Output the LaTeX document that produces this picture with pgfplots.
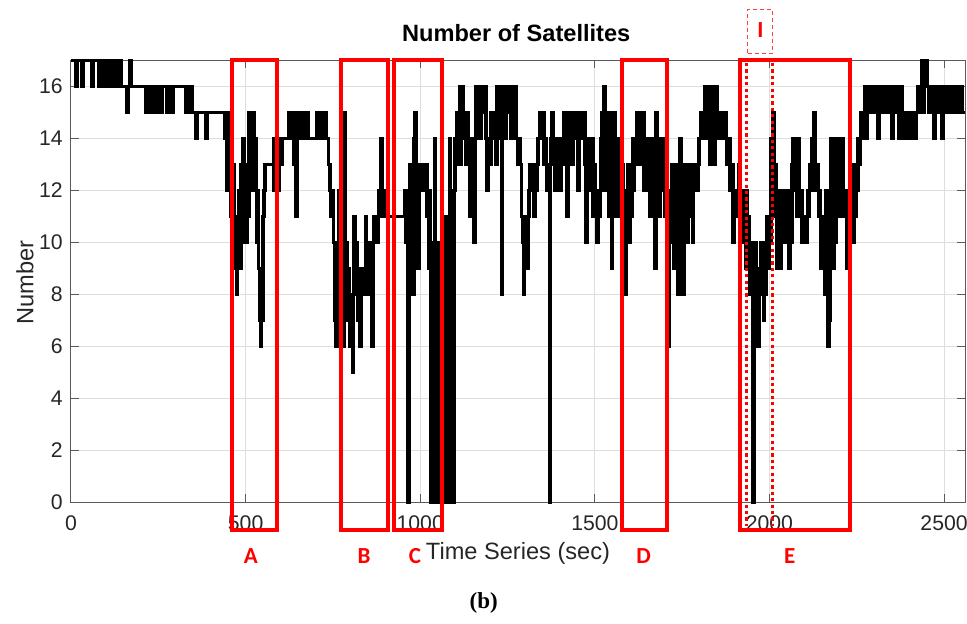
\documentclass[border=0pt]{standalone}
\usepackage{pgfplots}
\pgfplotsset{compat=1.18}
\usepackage{fontspec}
\setmainfont{Liberation Sans}
\newfontfamily\labfont{Carlito}
\newfontfamily\capfont{Liberation Serif}
\definecolor{mlgray}{RGB}{38,38,38}
\definecolor{axgray}{RGB}{90,90,90}
\definecolor{gridgray}{RGB}{222,222,222}
\begin{document}
\begin{tikzpicture}
\useasboundingbox (-35.5pt,-60.35pt) rectangle (448pt,251.15pt);
\begin{axis}[
  at={(0,0)}, anchor=south west,
  scale only axis, width=447pt, height=221pt,
  xmin=0, xmax=2560, ymin=0, ymax=17,
  xtick={0,500,...,2500}, ytick={0,2,...,16},
  grid=major, major grid style={gridgray, line width=0.5pt},
  tick align=inside, major tick length=4pt,
  axis line style={axgray, line width=0.5pt},
  tick style={axgray, line width=0.5pt},
  tick label style={font=\fontsize{10.6}{12}\selectfont, color=mlgray},
  xticklabel style={yshift=-3.3pt},
  yticklabel style={xshift=-0.6pt},
  /pgf/number format/assume math mode=true,
  /pgf/number format/1000 sep={},
  clip=false,
  title={Number of Satellites},
  title style={at={(axis description cs:0.498,1.035)}, anchor=center, font=\bfseries\fontsize{11.8}{13}\selectfont, color=black},
  xlabel={Time Series (sec)},
  xlabel style={at={(axis description cs:0.5,-0.115)}, anchor=center, font=\fontsize{11.8}{13}\selectfont, color=mlgray},
  ylabel={Number},
  ylabel style={at={(axis description cs:-0.0514,0.498)}, anchor=center, font=\fontsize{11.8}{13}\selectfont, color=mlgray},
]
\addplot[const plot, black, line width=1.8pt] table {
x y
0 17
13 16
17 17
31 16
35 17
59 16
63 17
80 16
84 17
88 16
92 17
96 16
100 17
104 16
108 17
112 16
116 17
120 16
124 17
128 16
132 17
136 16
140 17
144 16
160 15
163 16
168 17
171 16
214 15
218 16
222 15
226 16
230 15
234 16
241 15
245 16
249 15
253 16
257 15
261 16
273 15
277 16
281 15
285 16
289 15
292 16
330 15
334 16
338 15
342 16
346 15
357 14
361 15
385 14
389 15
440 14
444 15
447 12
451 15
455 13
458 11
459 12
462 10
465 13
468 9
471 11
474 8
477 10
480 12
483 9
486 13
489 11
492 14
495 10
498 12
501 10
504 13
507 11
510 15
513 12
516 15
519 13
522 15
525 12
528 14
531 10
534 12
537 9
540 7
543 6
546 7
549 11
552 12
555 13
580 12
582 14
585 12
589 13
594 12
597 14
600 13
604 14
625 15
629 14
633 15
637 13
641 14
644 11
647 15
650 14
654 15
658 14
662 15
666 14
670 15
674 14
678 15
680 14
704 15
708 14
712 15
716 14
720 15
724 14
728 15
732 14
737 13
741 12
745 11
749 12
752 10
756 7
759 6
762 9
765 7
768 12
771 8
774 9
777 13
779 6
782 15
785 8
788 10
791 7
794 9
797 6
800 8
803 6
806 5
808 8
810 11
813 8
816 10
819 9
822 7
825 9
828 6
831 9
834 8
837 9
840 8
843 11
846 8
849 9
852 8
855 10
858 9
861 6
864 10
867 11
870 10
873 11
876 10
879 11
882 12
885 11
888 14
891 11
894 12
897 11
956 12
959 10
962 12
965 0
967 11
970 13
973 9
976 12
979 8
982 14
985 15
988 12
991 13
994 9
997 12
1000 13
1004 12
1008 13
1012 12
1016 13
1020 11
1024 9
1027 12
1029 0
1031 10
1033 0
1035 9
1037 0
1039 10
1041 14
1043 0
1045 10
1047 0
1049 9
1051 0
1053 10
1055 0
1057 8
1059 0
1061 10
1063 0
1065 11
1067 0
1069 10
1071 0
1073 11
1075 0
1077 9
1079 0
1081 11
1083 0
1085 14
1087 0
1089 10
1091 0
1093 11
1095 0
1097 12
1100 14
1103 13
1106 15
1109 14
1112 16
1115 13
1118 15
1121 16
1124 14
1127 15
1130 13
1133 15
1136 14
1139 13
1141 11
1144 13
1147 14
1150 13
1153 10
1156 14
1160 16
1164 15
1168 16
1172 14
1176 16
1180 15
1184 16
1188 14
1191 12
1195 14
1199 13
1203 15
1207 14
1211 15
1215 13
1219 16
1223 15
1227 16
1231 14
1233 8
1235 15
1239 16
1243 14
1247 16
1251 15
1255 16
1259 14
1263 16
1267 15
1271 16
1275 14
1279 13
1283 14
1287 13
1290 11
1293 10
1296 8
1299 10
1302 11
1305 9
1308 11
1311 12
1314 13
1318 12
1322 13
1326 11
1330 12
1334 13
1338 14
1342 15
1346 14
1350 15
1354 13
1358 14
1362 12
1366 13
1370 0
1372 13
1375 14
1378 15
1381 14
1385 12
1388 14
1392 13
1396 14
1400 12
1404 14
1408 13
1412 15
1416 14
1420 11
1423 15
1427 14
1431 15
1435 13
1439 15
1443 14
1447 15
1451 12
1455 14
1459 15
1463 14
1467 15
1471 13
1475 10
1478 14
1482 13
1486 12
1490 14
1494 11
1498 13
1502 12
1506 10
1509 12
1513 11
1516 14
1520 15
1523 12
1526 16
1530 14
1533 12
1536 15
1539 11
1542 13
1545 15
1548 9
1551 12
1554 15
1557 11
1560 13
1563 12
1566 14
1569 11
1572 13
1575 12
1578 13
1581 10
1584 12
1587 8
1590 11
1593 13
1596 12
1599 10
1602 13
1605 11
1608 14
1611 12
1614 14
1617 13
1620 15
1624 14
1628 15
1632 13
1636 15
1640 12
1644 14
1648 13
1651 12
1654 14
1657 11
1660 13
1663 12
1666 14
1669 11
1672 9
1675 15
1678 12
1681 14
1684 11
1688 14
1692 12
1696 14
1700 11
1703 12
1707 11
1711 6
1714 10
1717 12
1720 13
1723 11
1726 9
1729 12
1732 10
1735 13
1738 8
1741 12
1744 14
1747 10
1750 13
1753 8
1756 12
1759 11
1762 13
1765 10
1768 12
1771 13
1774 11
1777 13
1780 10
1783 12
1787 13
1791 12
1795 13
1799 14
1803 15
1807 14
1811 15
1815 16
1818 14
1821 15
1824 16
1827 14
1830 13
1833 15
1836 16
1839 14
1842 13
1845 15
1848 16
1851 14
1855 15
1859 14
1863 15
1867 14
1871 15
1875 14
1879 13
1883 14
1887 12
1891 13
1895 10
1899 12
1903 11
1907 12
1911 13
1915 12
1919 11
1922 12
1925 10
1928 11
1931 9
1934 12
1937 10
1940 11
1943 8
1946 10
1949 9
1953 0
1956 9
1959 10
1962 7
1965 9
1968 6
1971 9
1974 10
1977 8
1980 9
1983 7
1986 10
1989 8
1992 11
1995 9
1998 11
2001 10
2004 14
2007 12
2010 15
2013 11
2016 13
2019 12
2022 9
2025 12
2028 11
2031 9
2034 12
2037 10
2040 11
2043 12
2046 10
2049 12
2052 11
2055 9
2058 12
2061 10
2064 13
2067 14
2070 12
2073 14
2076 13
2079 11
2082 14
2085 12
2088 11
2091 12
2094 10
2097 11
2100 10
2103 11
2106 10
2109 12
2112 11
2115 13
2118 12
2121 14
2124 12
2128 15
2131 13
2134 12
2137 13
2140 11
2143 12
2146 9
2149 11
2152 10
2155 9
2158 8
2161 12
2164 9
2167 6
2170 7
2173 11
2176 14
2179 12
2182 9
2185 13
2188 10
2191 14
2194 12
2197 11
2200 14
2203 12
2206 11
2209 14
2212 12
2215 11
2218 12
2221 9
2224 11
2227 10
2230 12
2233 11
2236 13
2239 10
2242 12
2245 11
2248 13
2251 12
2254 14
2257 13
2260 14
2263 15
2266 14
2269 15
2272 16
2276 14
2279 16
2283 15
2287 16
2291 15
2295 16
2299 15
2303 16
2307 15
2311 14
2315 16
2319 15
2323 16
2327 15
2331 16
2335 15
2339 16
2343 15
2347 16
2351 14
2354 16
2358 15
2362 16
2366 15
2370 14
2373 15
2377 16
2381 15
2385 14
2389 15
2393 14
2397 15
2401 14
2405 15
2409 14
2413 15
2417 14
2421 15
2425 16
2429 15
2433 16
2437 17
2440 15
2444 16
2448 17
2451 16
2455 15
2459 16
2463 15
2467 16
2471 14
2474 16
2478 15
2482 16
2486 15
2490 16
2494 14
2497 15
2501 16
2505 15
2509 16
2513 15
2517 16
2521 15
2525 16
2529 15
2533 16
2537 15
2541 16
2545 15
2549 16
2553 15
2560 15
};
% red boxes
\draw[red, line width=2pt] (axis cs:462,-1.065) rectangle (axis cs:591,17);
\draw[red, line width=2pt] (axis cs:773,-1.065) rectangle (axis cs:907,17);
\draw[red, line width=2pt] (axis cs:926,-1.065) rectangle (axis cs:1061,17);
\draw[red, line width=2pt] (axis cs:1578,-1.065) rectangle (axis cs:1708,17);
\draw[red, line width=2pt] (axis cs:1916,-1.065) rectangle (axis cs:2230,17);
\draw[red, line width=1.6pt, dash pattern=on 1.6pt off 1.6pt] (axis cs:1934,16.9) -- (axis cs:1934,-0.9);
\draw[red, line width=1.6pt, dash pattern=on 1.6pt off 1.6pt] (axis cs:2009,16.9) -- (axis cs:2009,-0.9);
\draw[red!75, line width=0.5pt, dash pattern=on 2pt off 1.5pt] (axis cs:1938,17.28) rectangle (axis cs:2010,18.95);
\node[red, font=\labfont\bfseries\fontsize{11.5}{13}\selectfont] at (axis cs:1974,18.15) {I};
\node[red, font=\labfont\bfseries\fontsize{11.5}{13}\selectfont] at (axis cs:515,-2.07) {A};
\node[red, font=\labfont\bfseries\fontsize{11.5}{13}\selectfont] at (axis cs:839,-2.07) {B};
\node[red, font=\labfont\bfseries\fontsize{11.5}{13}\selectfont] at (axis cs:985,-2.07) {C};
\node[red, font=\labfont\bfseries\fontsize{11.5}{13}\selectfont] at (axis cs:1640,-2.07) {D};
\node[red, font=\labfont\bfseries\fontsize{11.5}{13}\selectfont] at (axis cs:2058,-2.07) {E};
\node[black, font=\capfont\bfseries\fontsize{11.5}{13}\selectfont] at (axis cs:1182,-3.87) {(b)};
\end{axis}
\end{tikzpicture}
\end{document}
